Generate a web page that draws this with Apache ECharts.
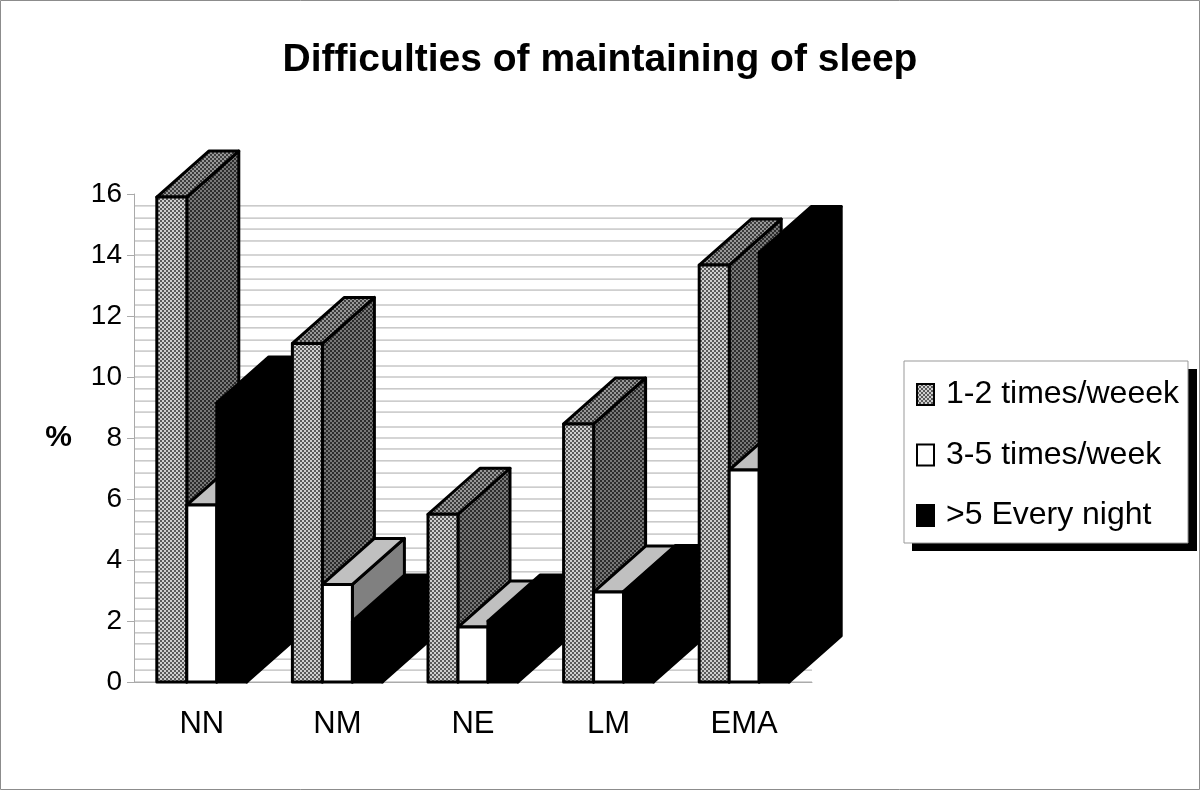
<!DOCTYPE html>
<html>
<head>
<meta charset="utf-8">
<title>Difficulties of maintaining of sleep</title>
<script src="https://cdn.jsdelivr.net/npm/echarts@6/dist/echarts.min.js"></script>
<style>
  html, body { margin: 0; padding: 0; background: #fff; }
  #chart { width: 1200px; height: 790px; }
</style>
</head>
<body>
<div id="chart"></div>
<script>
const categories = ['NN', 'NM', 'NE', 'LM', 'EMA'];
const seriesNames = ['1-2 times/weeek', '3-5 times/week', '>5 Every night'];
const oneToTwo = [15.9, 11.1, 5.5, 8.46, 13.67];
const threeToFive = [5.8, 3.2, 1.8, 2.95, 6.95];
const everyNight = [9.15, 2.0, 2.0, 2.97, 14.08];
// the back wall lines are not evenly spaced in the picture
const wallLines = [0, 0.39, 0.75, 1.25, 1.61, 2, 2.39, 2.75, 3.25, 3.61, 4, 4.39, 4.85, 5.25, 5.61, 6, 6.39, 6.85, 7.25, 7.64,
  8, 8.36, 8.85, 9.21, 9.61, 10, 10.36, 10.85, 11.21, 11.61, 11.97, 12.36, 12.85, 13.21, 13.61, 14, 14.46, 14.85, 15.21, 15.61];

const DEPTH_X = 52;
const DEPTH_Y = 46;
const BAR_W = 30;

// dithered fill like the old office charts
function dither(dark, light) {
  const c = document.createElement('canvas');
  c.width = 4;
  c.height = 4;
  const g = c.getContext('2d');
  g.fillStyle = light;
  g.fillRect(0, 0, 4, 4);
  g.fillStyle = dark;
  g.fillRect(0, 0, 2, 2);
  g.fillRect(2, 2, 2, 2);
  return { image: c, repeat: 'repeat' };
}

const faces = [
  { front: dither('#5a5a5a', '#cfcfcf'), side: dither('#2c2c2c', '#787878'), top: dither('#3c3c3c', '#989898') },
  { front: '#ffffff', side: '#808080', top: '#c0c0c0' },
  { front: '#000000', side: '#000000', top: '#000000' }
];

function renderBar(slot) {
  return function (params, api) {
    const cat = api.value(0);
    const p = api.coord([cat, api.value(1)]);
    const base = api.coord([cat, 0]);
    const x0 = p[0] + (slot - 1.5) * BAR_W;
    const x1 = x0 + BAR_W;
    const order = cat * 3 + slot;
    const face = function (points, fill) {
      return {
        type: 'polygon',
        z2: order,
        shape: { points: points },
        style: { fill: fill, stroke: '#000', lineWidth: 3, lineJoin: 'round' }
      };
    };
    return {
      type: 'group',
      children: [
        face([[x1, p[1]], [x1 + DEPTH_X, p[1] - DEPTH_Y], [x1 + DEPTH_X, base[1] - DEPTH_Y], [x1, base[1]]], faces[slot].side),
        face([[x0, p[1]], [x0 + DEPTH_X, p[1] - DEPTH_Y], [x1 + DEPTH_X, p[1] - DEPTH_Y], [x1, p[1]]], faces[slot].top),
        face([[x0, p[1]], [x1, p[1]], [x1, base[1]], [x0, base[1]]], faces[slot].front)
      ]
    };
  };
}

function barSeries(slot, values) {
  return {
    name: seriesNames[slot],
    type: 'custom',
    z: 3,
    clip: false,
    renderItem: renderBar(slot),
    itemStyle: { color: faces[slot].front, borderColor: '#000', borderWidth: 2 },
    data: values.map(function (v, i) { return [i, v]; })
  };
}

const chart = echarts.init(document.getElementById('chart'));
chart.setOption({
  animation: false,
  backgroundColor: '#fff',
  textStyle: { fontFamily: 'Liberation Sans' },
  title: {
    text: 'Difficulties of maintaining of sleep',
    left: 'center',
    top: 36,
    textStyle: { fontSize: 39, fontWeight: 'bold', color: '#000', fontFamily: 'Liberation Sans' }
  },
  legend: {
    data: seriesNames,
    orient: 'vertical',
    left: 904,
    top: 361,
    padding: [15, 9, 9, 12],
    icon: 'rect',
    itemWidth: 17,
    itemHeight: 21,
    itemGap: 23.5,
    backgroundColor: '#fff',
    borderColor: '#999',
    borderWidth: 1,
    textStyle: { fontSize: 32, color: '#000', lineHeight: 37, padding: [0, 0, 0, 7] }
  },
  graphic: [{
    type: 'rect',
    silent: true,
    shape: { x: 0.5, y: 0.5, width: 1199, height: 789 },
    style: { fill: 'none', stroke: '#8c8c8c', lineWidth: 1 }
  }, {
    // legend drop shadow
    type: 'rect',
    silent: true,
    z: 3,
    shape: { x: 912, y: 369, width: 285, height: 182 },
    style: { fill: '#000' }
  }],
  grid: { left: 134, top: 194, width: 678, height: 488 },
  xAxis: {
    type: 'category',
    data: categories,
    axisLine: { lineStyle: { color: '#aaa', width: 1 } },
    axisTick: { show: false },
    axisLabel: { color: '#000', fontSize: 31, margin: 27 }
  },
  yAxis: {
    type: 'value',
    min: 0,
    max: 16,
    interval: 2,
    name: '%',
    nameLocation: 'middle',
    nameRotate: 0,
    nameGap: 62,
    nameTextStyle: { color: '#000', fontSize: 30, fontWeight: 'bold', padding: [4, 0, 0, 0] },
    axisLine: { show: true, lineStyle: { color: '#aaa', width: 1 } },
    axisTick: { show: true, length: 7, lineStyle: { color: '#aaa' } },
    axisLabel: { color: '#000', fontSize: 28, margin: 12 },
    splitLine: { show: false }
  },
  series: [
    {
      name: 'wall',
      type: 'custom',
      silent: true,
      z: 1,
      renderItem: function (params, api) {
        const y = api.coord([0, api.value(0)])[1];
        return {
          type: 'line',
          shape: { x1: params.coordSys.x, y1: y, x2: params.coordSys.x + params.coordSys.width, y2: y },
          style: { stroke: '#ababab', lineWidth: 1 }
        };
      },
      encode: { y: 0 },
      data: wallLines.map(function (v) { return [v]; })
    },
    barSeries(0, oneToTwo),
    barSeries(1, threeToFive),
    barSeries(2, everyNight)
  ]
});
</script>
</body>
</html>
